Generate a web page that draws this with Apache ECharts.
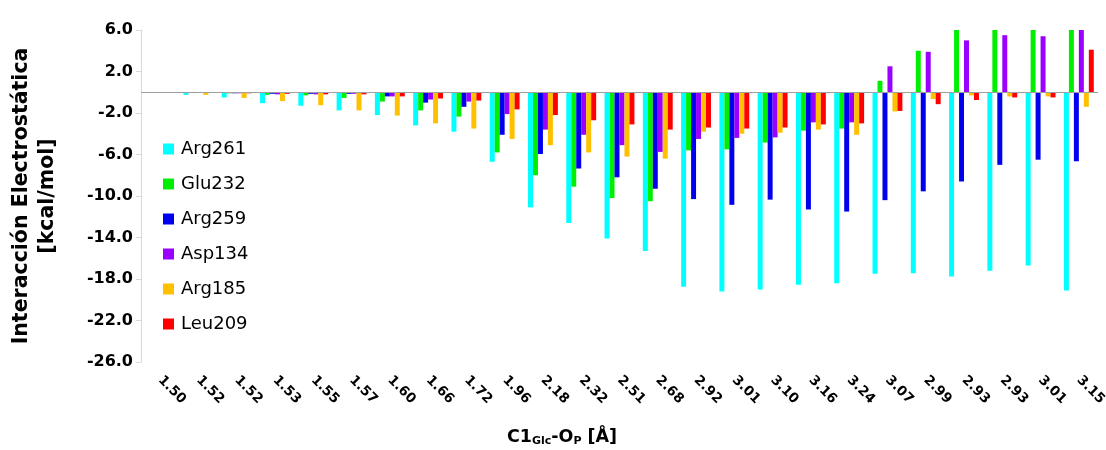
<!DOCTYPE html>
<html>
<head>
<meta charset="utf-8">
<script src="https://cdn.jsdelivr.net/npm/echarts@6/dist/echarts.min.js"></script>
<style>
html,body{margin:0;padding:0;background:#fff;}
#chart{width:1106px;height:450px;}
</style>
</head>
<body>
<div id="chart"></div>
<script>
const categories = ['1.50','1.52','1.52','1.53','1.55','1.57','1.60','1.66','1.72','1.96','2.18','2.32','2.51','2.68','2.92','3.01','3.10','3.16','3.24','3.07','2.99','2.93','2.93','3.01','3.15'];
const seriesNames = ['Arg261','Glu232','Arg259','Asp134','Arg185','Leu209'];
const arg261 = [-0.05,-0.25,-0.5,-1.05,-1.3,-1.75,-2.2,-3.2,-3.8,-6.7,-11.1,-12.6,-14.1,-15.3,-18.75,-19.2,-19.0,-18.55,-18.4,-17.5,-17.45,-17.75,-17.2,-16.7,-19.1];
const glu232 = [-0.02,-0.05,-0.1,-0.25,-0.3,-0.55,-0.9,-1.75,-2.35,-5.8,-8.0,-9.1,-10.2,-10.5,-5.6,-5.5,-4.85,-3.7,-3.5,1.1,4.0,6.0,6.0,6.0,6.0];
const arg259 = [-0.02,-0.05,-0.1,-0.15,-0.15,-0.15,-0.4,-1.0,-1.4,-4.1,-5.95,-7.35,-8.2,-9.3,-10.3,-10.85,-10.35,-11.3,-11.5,-10.4,-9.55,-8.6,-7.0,-6.5,-6.65];
const asp134 = [-0.02,-0.05,-0.1,-0.2,-0.2,-0.15,-0.4,-0.7,-0.9,-2.1,-3.6,-4.1,-5.1,-5.75,-4.5,-4.4,-4.35,-2.9,-2.9,2.5,3.9,5.0,5.5,5.4,6.0];
const arg185 = [-0.05,-0.25,-0.55,-0.85,-1.25,-1.75,-2.25,-3.0,-3.5,-4.5,-5.1,-5.8,-6.2,-6.4,-3.8,-4.0,-3.9,-3.6,-4.1,-1.85,-0.65,-0.3,-0.4,-0.4,-1.4];
const leu209 = [-0.02,-0.05,-0.1,-0.15,-0.2,-0.2,-0.4,-0.6,-0.8,-1.65,-2.2,-2.7,-3.1,-3.6,-3.4,-3.5,-3.4,-3.1,-3.0,-1.8,-1.15,-0.75,-0.5,-0.5,4.1];
const yMin = -26, yMax = 6, yInterval = 4;
const yTitle = 'Interacción Electrostática\n[kcal/mol]';

const colors = ['#00FFFF','#00EE00','#0000EE','#9900FF','#FFC000','#FF0000'];
const values = [arg261, glu232, arg259, asp134, arg185, leu209];
const FONT = '"DejaVu Sans", sans-serif';

const chart = echarts.init(document.getElementById('chart'), null, {renderer:'canvas'});
const series = seriesNames.map((n, i) => {
  const s = {
    name: n, type: 'bar', data: values[i],
    itemStyle: {color: colors[i]},
    barGap: '0%', barCategoryGap: '22%',
    animation: false
  };
  if (i === 0) {
    s.markLine = {
      silent: true, symbol: 'none', label: {show: false},
      lineStyle: {color: '#a0a0a0', width: 1, type: 'solid'},
      data: [{yAxis: 0}], animation: false
    };
  }
  return s;
});

chart.setOption({
  animation: false,
  color: colors,
  textStyle: {fontFamily: FONT},
  grid: {left: 141, right: 8, top: 30, bottom: 88, containLabel: false, outerBoundsMode: 'none'},
  legend: {
    orient: 'vertical', left: 158, top: 135, padding: 5,
    icon: 'rect', itemWidth: 11, itemHeight: 11, itemGap: 17,
    textStyle: {fontSize: 18, color: '#000', fontFamily: FONT, padding: [0,0,0,2]},
    data: seriesNames
  },
  xAxis: {
    type: 'category', data: categories,
    axisLine: {show: false, onZero: false},
    axisTick: {show: false},
    axisLabel: {rotate: -45, interval: 0, margin: 16, fontSize: 13.5, fontWeight: 'bold', color: '#000', fontFamily: FONT}
  },
  yAxis: {
    type: 'value', min: yMin, max: yMax, interval: yInterval,
    axisLine: {show: true, lineStyle: {color: '#d9d9d9'}},
    axisTick: {show: true, length: 5, lineStyle: {color: '#d9d9d9'}},
    splitLine: {show: false},
    axisLabel: {fontSize: 16, fontWeight: 'bold', color: '#000', margin: 8, fontFamily: FONT,
      formatter: v => v.toFixed(1)},
    name: yTitle,
    nameLocation: 'middle', nameGap: 80, nameRotate: 90,
    nameTextStyle: {fontSize: 20.5, fontWeight: 'bold', color: '#000', lineHeight: 26, fontFamily: FONT}
  },
  graphic: [{
    type: 'text', x: 562, y: 437,
    style: {
      text: '{m|C1}{s|Glc}{m|-O}{s|P}{m| [Å]}',
      align: 'center', verticalAlign: 'middle',
      rich: {
        m: {fontSize: 17.5, fontWeight: 'bold', fill: '#000', fontFamily: FONT},
        s: {fontSize: 11, fontWeight: 'bold', fill: '#000', fontFamily: FONT, padding: [9,0,0,0]}
      }
    }
  }],
  series: series
});
</script>
</body>
</html>
